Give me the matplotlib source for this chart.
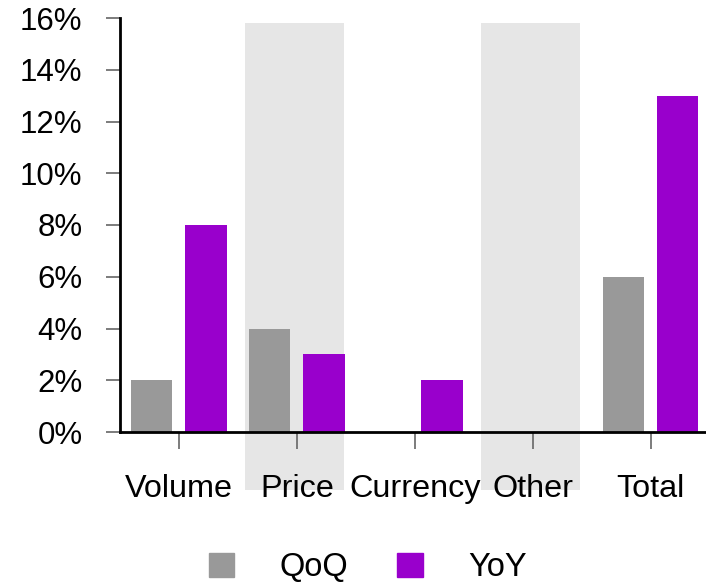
import matplotlib.pyplot as plt
from matplotlib.patches import Patch, Rectangle
import numpy as np

plt.rcParams["font.family"] = ["Liberation Sans", "DejaVu Sans"]

categories = ["Volume", "Price", "Currency", "Other", "Total"]
qoq = [2, 4, 0, 0, 6]
yoy = [8, 3, 2, 0, 13]
shaded = ["Price", "Other"]

GRAY = "#999999"
PURPLE = "#9900CC"
BAND = "#E6E6E6"

fig = plt.figure(figsize=(7.06, 5.85), dpi=100)
ax = fig.add_axes([120 / 706, 1 - 432 / 585, 1 - 120 / 706, 414 / 585])

x = np.arange(len(categories))
w = 0.35
ax.set_xlim(-0.5, 4.47)
ax.set_ylim(0, 16)

# shaded bands behind some categories, running down behind the labels
for i, c in enumerate(categories):
    if c in shaded:
        ax.add_patch(Rectangle((i - 0.44, -2.24), 0.84, 15.8 + 2.24,
                               facecolor=BAND, edgecolor="none",
                               clip_on=False, zorder=0))

ax.bar(x - 0.23, qoq, w, color=GRAY, zorder=2)
ax.bar(x + 0.23, yoy, w, color=PURPLE, zorder=2)

ax.set_yticks(range(0, 17, 2))
ax.set_yticklabels([f"{v}%" for v in range(0, 17, 2)])
ax.set_xticks(x)
ax.set_xticklabels(categories)
ax.tick_params(axis="y", length=10, width=1.2, color="#666666", pad=17, labelsize=22.5)
ax.tick_params(axis="x", length=12, width=1.2, color="#666666", pad=18, labelsize=23.3)

for s in ["top", "right"]:
    ax.spines[s].set_visible(False)
for s in ["left", "bottom"]:
    ax.spines[s].set_linewidth(2)
    ax.spines[s].set_color("black")
    ax.spines[s].set_zorder(3)
ax.patch.set_visible(False)

handles = [Patch(color=GRAY, label="QoQ"), Patch(color=PURPLE, label="YoY")]
fig.legend(handles=handles, loc="center", bbox_to_anchor=(0.521, 1 - 568 / 585),
           ncol=2, frameon=False, fontsize=23.5, handlelength=0.78,
           handleheight=0.78, handletextpad=1.4, columnspacing=1.5)

fig.savefig("out.png", dpi=100)
